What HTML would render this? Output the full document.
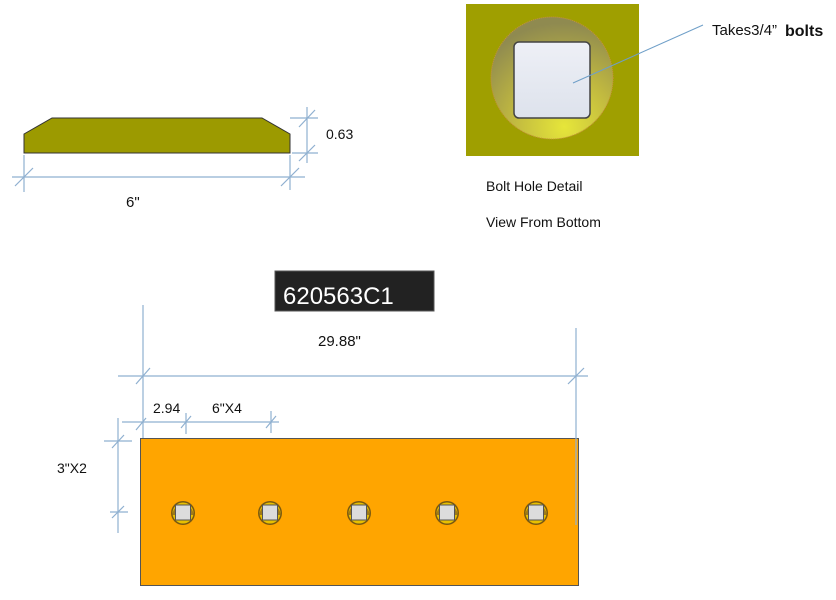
<!DOCTYPE html>
<html><head><meta charset="utf-8"><style>
html,body{margin:0;padding:0;background:#fff;}
svg{display:block;}
text{font-family:"Liberation Sans",sans-serif;fill:#111;}
</style></head><body>
<svg width="836" height="600" viewBox="0 0 836 600" xmlns="http://www.w3.org/2000/svg">
<defs>
<radialGradient id="ring" cx="0.6" cy="0.9" r="0.85">
<stop offset="0" stop-color="#e6e63a"/>
<stop offset="0.5" stop-color="#c0b840"/>
<stop offset="1" stop-color="#8f8a50"/>
</radialGradient>
<linearGradient id="sq" x1="0" y1="0" x2="0" y2="1">
<stop offset="0" stop-color="#eef0f6"/>
<stop offset="1" stop-color="#dde2ec"/>
</linearGradient>
</defs>

<!-- top profile -->
<polygon points="24,134 52,118 262,118 290,134 290,153 24,153" fill="#9c9a00" stroke="#333" stroke-width="1"/>
<g stroke="#8fb0d0" stroke-width="1.2" fill="none">
<line x1="12" y1="177" x2="305" y2="177"/>
<line x1="24" y1="155" x2="24" y2="192"/>
<line x1="290" y1="155" x2="290" y2="190"/>
<line x1="15" y1="186" x2="33" y2="168"/>
<line x1="281" y1="186" x2="299" y2="168"/>
<line x1="307" y1="107" x2="307" y2="163"/>
<line x1="290" y1="118" x2="318" y2="118"/>
<line x1="292" y1="153" x2="318" y2="153"/>
<line x1="299" y1="127" x2="315" y2="110"/>
<line x1="299" y1="161" x2="315" y2="145"/>
</g>
<text x="326" y="139" font-size="14">0.63</text>
<text x="126" y="207" font-size="15">6"</text>

<!-- bolt detail -->
<rect x="466" y="4" width="173" height="152" fill="#9f9f00"/>
<circle cx="552" cy="78" r="61" fill="url(#ring)" stroke="#c89040" stroke-width="1" stroke-dasharray="1 1"/>
<rect x="514" y="42" width="76" height="76" rx="5" fill="url(#sq)" stroke="#444" stroke-width="1.5"/>
<line x1="573" y1="83" x2="703" y2="25" stroke="#6f9fc8" stroke-width="1"/>
<text x="712" y="35" font-size="15">Takes3/4”</text>
<text x="785" y="36" font-size="16" font-weight="bold">bolts</text>
<text x="486" y="191" font-size="14">Bolt Hole Detail</text>
<text x="486" y="227" font-size="14">View From Bottom</text>

<!-- title -->
<rect x="275" y="271" width="159" height="40" fill="#222" stroke="#555"/>
<text x="283" y="304" font-size="24" style="fill:#fff">620563C1</text>
<text x="318" y="346" font-size="15">29.88"</text>

<!-- bar -->
<rect x="140.5" y="438.5" width="438" height="147" fill="#ffa500" stroke="#555" stroke-width="1"/>
<g id="h1" transform="translate(183,513)">
<circle r="12" fill="#7a5a10"/>
<circle r="10.5" fill="#e8c000"/>
<path d="M-10.5 2 A10.5 10.5 0 0 1 10.5 2Z" fill="#a07a18"/>
<rect x="-7.5" y="-8" width="15" height="15" fill="#dcdcdc" stroke="#555" stroke-width="1"/>
</g>
<use href="#h1" x="87" y="0"/>
<use href="#h1" x="176" y="0"/>
<use href="#h1" x="264" y="0"/>
<use href="#h1" x="353" y="0"/>

<g stroke="#8fb0d0" stroke-width="1.2" fill="none">
<line x1="118" y1="376" x2="588" y2="376"/>
<line x1="143" y1="305" x2="143" y2="438"/>
<line x1="576" y1="328" x2="576" y2="525"/>
<line x1="136" y1="384" x2="150" y2="368"/>
<line x1="568" y1="384" x2="584" y2="368"/>
<line x1="122" y1="422" x2="279" y2="422"/>
<line x1="186" y1="413" x2="186" y2="434"/>
<line x1="271" y1="411" x2="271" y2="433"/>
<line x1="136" y1="430" x2="146" y2="418"/>
<line x1="181" y1="428" x2="191" y2="416"/>
<line x1="266" y1="428" x2="276" y2="416"/>
<line x1="118" y1="418" x2="118" y2="533"/>
<line x1="104" y1="441" x2="132" y2="441"/>
<line x1="110" y1="512" x2="128" y2="512"/>
<line x1="112" y1="448" x2="124" y2="435"/>
<line x1="112" y1="518" x2="124" y2="506"/>
</g>
<text x="153" y="413" font-size="14">2.94</text>
<text x="212" y="413" font-size="14">6"X4</text>
<text x="57" y="473" font-size="14">3"X2</text>
</svg>
</body></html>
